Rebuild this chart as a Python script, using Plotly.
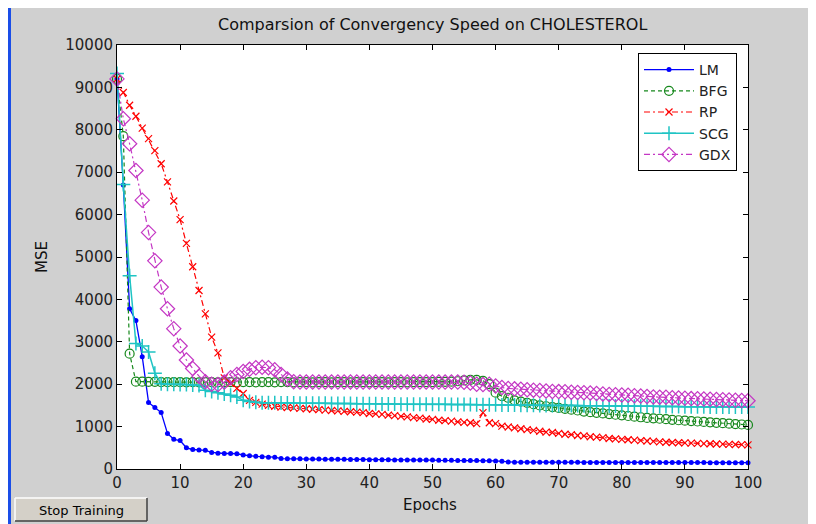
import plotly.graph_objects as go

epochs = list(range(101))

lm = [9200, 6700, 3780, 3500, 2650, 1570, 1450, 1330, 840, 700,
      670, 500, 460, 450, 440, 390, 370, 365, 365, 360,
      330, 310, 300, 290, 280, 280, 245, 240, 240, 240,
      235, 235, 235, 230, 230, 230, 230, 225, 225, 225,
      220, 220, 220, 220, 215, 215, 215, 215, 210, 210,
      210, 205, 205, 205, 200, 200, 200, 200, 195, 195,
      190, 180, 165, 160, 160, 160, 160, 158, 158, 158,
      158, 157, 157, 157, 156, 156, 156, 155, 155, 155,
      155, 154, 154, 154, 153, 153, 153, 152, 152, 152,
      152, 151, 151, 151, 150, 150, 150, 150, 149, 149, 149]

bfg = [9200, 7850, 2720, 2060, 2060, 2055, 2055, 2050, 2050, 2050,
       2050, 2045, 2050, 2045, 2050, 2050, 2045, 2050, 2050, 2045,
       2050, 2050, 2045, 2050, 2050, 2045, 2050, 2050, 2045, 2050,
       2050, 2045, 2050, 2050, 2045, 2050, 2050, 2045, 2050, 2050,
       2045, 2050, 2050, 2045, 2050, 2050, 2045, 2050, 2050, 2050,
       2050, 2055, 2055, 2060, 2070, 2090, 2100, 2100, 2080, 2000,
       1800, 1720, 1680, 1620, 1590, 1560, 1530, 1500, 1480, 1460,
       1440, 1420, 1400, 1380, 1355, 1340, 1325, 1310, 1295, 1280,
       1265, 1250, 1235, 1220, 1205, 1195, 1185, 1175, 1160, 1150,
       1140, 1130, 1120, 1110, 1100, 1090, 1080, 1070, 1060, 1050, 1040]

rp = [9200, 8880, 8580, 8320, 8040, 7790, 7510, 7200, 6770, 6320,
      5880, 5320, 4770, 4210, 3660, 3110, 2740, 2150, 2020, 1900,
      1780, 1620, 1570, 1530, 1500, 1480, 1460, 1450, 1440, 1430,
      1420, 1410, 1400, 1390, 1380, 1370, 1360, 1350, 1340, 1330,
      1310, 1300, 1290, 1270, 1260, 1240, 1230, 1210, 1200, 1180,
      1170, 1150, 1140, 1130, 1110, 1100, 1090, 1070, 1330, 1090,
      1070, 1010, 990, 970, 950, 930, 910, 890, 870, 860,
      840, 820, 810, 790, 780, 760, 750, 740, 720, 710,
      700, 690, 680, 670, 660, 650, 640, 630, 625, 620,
      615, 610, 605, 600, 595, 590, 585, 580, 578, 575, 570]

scg = [9330, 6710, 4560, 2960, 2900, 2760, 2260, 2010, 2000, 2000,
       1990, 1990, 1980, 1970, 1860, 1830, 1800, 1770, 1740, 1700,
       1620, 1590, 1575, 1565, 1560, 1560, 1555, 1555, 1555, 1550,
       1550, 1550, 1550, 1550, 1545, 1545, 1545, 1545, 1540, 1540,
       1540, 1540, 1535, 1535, 1535, 1530, 1530, 1530, 1530, 1525,
       1525, 1525, 1525, 1520, 1520, 1520, 1520, 1515, 1515, 1515,
       1515, 1510, 1510, 1510, 1505, 1505, 1505, 1500, 1500, 1500,
       1500, 1495, 1495, 1495, 1490, 1490, 1490, 1490, 1485, 1485,
       1485, 1485, 1480, 1480, 1480, 1480, 1475, 1475, 1475, 1475,
       1470, 1470, 1470, 1470, 1465, 1465, 1465, 1465, 1460, 1460, 1460]

gdx = [9200, 8260, 7670, 7040, 6340, 5580, 4910, 4290, 3780, 3310,
       2900, 2570, 2370, 2190, 2060, 2000, 1990, 2050, 2150, 2230,
       2300, 2350, 2390, 2400, 2390, 2340, 2230, 2120, 2060, 2050,
       2050, 2050, 2050, 2050, 2050, 2050, 2050, 2050, 2050, 2050,
       2050, 2050, 2050, 2050, 2050, 2050, 2050, 2050, 2050, 2050,
       2050, 2050, 2050, 2050, 2050, 2045, 2030, 2000, 1990, 2000,
       1960, 1920, 1900, 1890, 1880, 1870, 1860, 1850, 1840, 1830,
       1825, 1820, 1810, 1805, 1800, 1790, 1780, 1770, 1760, 1750,
       1745, 1740, 1730, 1720, 1710, 1700, 1695, 1690, 1680, 1675,
       1670, 1660, 1655, 1650, 1645, 1640, 1635, 1630, 1620, 1615, 1610]

x_ticks = list(range(0, 101, 10))
y_ticks = list(range(0, 10001, 1000))

# page geometry (pixels in the 816x524 window); the page body has an 8px margin
OFF = 8
PAGE_W, PAGE_H = 816, 524
W, H = PAGE_W - OFF, PAGE_H - OFF
L, R, T, B = 117, 748, 45, 469          # plot area in page pixels
PW, PH = R - L, B - T


def px(x):
    return (x - L) / PW


def py(y):
    return (B - y) / PH


FONT = "DejaVu Sans, Arial, sans-serif"

fig = go.Figure()

fig.add_trace(go.Scatter(
    x=epochs, y=lm, name="LM", mode="lines+markers",
    line=dict(color="#0000ff", width=1.3),
    marker=dict(symbol="circle", size=5, color="#0000ff"),
    cliponaxis=False))
fig.add_trace(go.Scatter(
    x=epochs, y=bfg, name="BFG", mode="lines+markers",
    line=dict(color="#16881c", width=1.2, dash="4px,3px"),
    marker=dict(symbol="circle-open", size=9, color="#16881c", line=dict(width=1.2)),
    cliponaxis=False))
fig.add_trace(go.Scatter(
    x=epochs, y=rp, name="RP", mode="lines+markers",
    line=dict(color="#ff0000", width=1.2, dash="6px,3px,2px,3px"),
    marker=dict(symbol="x-thin-open", size=7, color="#ff0000", line=dict(width=1.2, color="#ff0000")),
    cliponaxis=False))
fig.add_trace(go.Scatter(
    x=epochs, y=scg, name="SCG", mode="lines+markers",
    line=dict(color="#1fc4c4", width=1.5),
    marker=dict(symbol="cross-thin-open", size=10, color="#1fc4c4", line=dict(width=1.5, color="#1fc4c4")),
    cliponaxis=False))
fig.add_trace(go.Scatter(
    x=epochs, y=gdx, name="GDX", mode="lines+markers",
    line=dict(color="#c437c4", width=1.2, dash="6px,3px,2px,3px"),
    marker=dict(symbol="diamond-open", size=11, color="#c437c4", line=dict(width=1.2)),
    cliponaxis=False))

axis_common = dict(
    showline=True, linecolor="#000000", linewidth=1, mirror="ticks",
    ticks="inside", ticklen=5, tickcolor="#000000", showgrid=False, zeroline=False,
    tickfont=dict(family=FONT, size=15, color="#222222"),
)

fig.update_xaxes(range=[0, 100], tickvals=x_ticks, ticktext=[str(v) for v in x_ticks], **axis_common)
fig.update_yaxes(range=[0, 10000], tickvals=y_ticks, ticktext=[str(v) for v in y_ticks], **axis_common)

shapes = [
    # blue window border on the left
    dict(type="rect", xref="paper", yref="paper", x0=px(OFF), x1=px(11), y0=py(PAGE_H), y1=py(OFF),
         fillcolor="#1a4ee8", line=dict(width=0), layer="below"),
    # Stop Training button
    dict(type="rect", xref="paper", yref="paper", x0=px(15), x1=px(147), y0=py(521), y1=py(498),
         fillcolor="#d4d0c8", line=dict(width=0)),
    dict(type="line", xref="paper", yref="paper", x0=px(15), x1=px(147), y0=py(498), y1=py(498),
         line=dict(color="#ffffff", width=1.5)),
    dict(type="line", xref="paper", yref="paper", x0=px(15), x1=px(15), y0=py(521), y1=py(498),
         line=dict(color="#ffffff", width=1.5)),
    dict(type="line", xref="paper", yref="paper", x0=px(15), x1=px(147), y0=py(521), y1=py(521),
         line=dict(color="#404040", width=1.5)),
    dict(type="line", xref="paper", yref="paper", x0=px(147), x1=px(147), y0=py(521), y1=py(498),
         line=dict(color="#404040", width=1.5)),
]

annotations = [
    dict(text="Comparsion of Convergency Speed on CHOLESTEROL", xref="paper", yref="paper",
         x=px(432), y=py(25), showarrow=False, xanchor="center", yanchor="middle",
         font=dict(family=FONT, size=16, color="#111111")),
    dict(text="MSE", xref="paper", yref="paper", x=px(42), y=py(257), textangle=-90,
         showarrow=False, xanchor="center", yanchor="middle",
         font=dict(family=FONT, size=15, color="#111111")),
    dict(text="Epochs", xref="paper", yref="paper", x=px(430), y=py(505),
         showarrow=False, xanchor="center", yanchor="middle",
         font=dict(family=FONT, size=15, color="#111111")),
    dict(text="Stop Training", xref="paper", yref="paper", x=px(81), y=py(510),
         showarrow=False, xanchor="center", yanchor="middle",
         font=dict(family=FONT, size=13, color="#000000")),
]

fig.update_layout(
    width=W, height=H,
    margin=dict(l=L - OFF, r=(OFF + W) - R, t=T - OFF, b=(OFF + H) - B, pad=0),
    paper_bgcolor="#d0d0d0", plot_bgcolor="#ffffff",
    showlegend=True,
    legend=dict(x=px(737), y=py(53), xanchor="right", yanchor="top",
                bgcolor="#ffffff", bordercolor="#000000", borderwidth=1,
                font=dict(family=FONT, size=14, color="#222222"),
                tracegroupgap=0, itemwidth=50),
    shapes=shapes,
    annotations=annotations,
)

fig.write_html("out.html")
